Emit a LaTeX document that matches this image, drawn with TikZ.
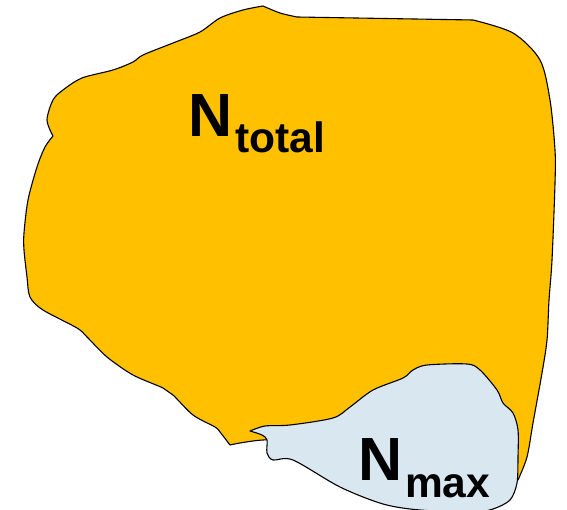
\documentclass[tikz,border=0pt]{standalone}
\usepackage{fontspec}
\setmainfont{Liberation Sans}
\definecolor{gold}{HTML}{FFC000}
\definecolor{paleblue}{HTML}{D9E7F0}
\tikzset{
  blob/.style={draw=black, line width=1.1pt, line join=round},
  bigN/.style={anchor=base west, inner sep=0pt, font=\fontsize{61}{61}\selectfont\bfseries},
  subtxt/.style={anchor=base west, inner sep=0pt, font=\fontsize{42.5}{42.5}\selectfont\bfseries}
}
\begin{document}
\begin{tikzpicture}[x=1pt,y=-1pt]
\useasboundingbox (0,0) rectangle (567,510);
% total region
\path[blob, fill=gold]
  plot[smooth, tension=0.5] coordinates {(263,6) (280,13) (297,17)}
  -- (473,20)
  -- plot[smooth, tension=0.5] coordinates {(473,20) (513,33) (540,60) (550,100) (555,150) (555,183) (552,260) (549,300) (547,340) (542,373) (533,423) (527,457) (518,480)}
  -- plot[smooth, tension=0.5] coordinates {(518,480) (480,470) (400,450) (300,440) (263,440) (240,443) (230,445)}
  -- plot[smooth, tension=0.5] coordinates {(230,445) (220,432) (215,427) (193,415) (173,395) (163,388) (133,375) (107,357) (87,337) (77,328) (43,310) (30,297) (27,277) (24,250) (24,233) (28,200) (37,167) (45,147) (53,136)}
  -- plot[smooth, tension=0.5] coordinates {(53,136) (47,120) (53,100) (63,90) (82,78) (113,70) (133,62) (143,55) (173,43) (200,32) (220,18) (243,10) (263,6)}
  -- cycle;
% max region
\path[blob, fill=paleblue]
  plot[smooth, tension=0.5] coordinates {(250,431) (265,426) (290,425) (333,418) (350,407) (373,390) (403,378) (413,370) (427,365) (467,364) (480,370) (497,390) (503,403) (513,413) (518,430) (518,457) (517,483) (510,500) (493,509) (473,512) (420,510) (383,504) (340,487) (293,460) (273,460) (267,453) (267,440) (262,435) (250,431)}
  -- cycle;
% labels
\node[bigN] (nt) at (188,137) {N};
\node[subtxt] (ntsub) at (235,153) {total};
\node[bigN] (nm) at (358,480) {N};
\node[subtxt] (nmsub) at (405,497) {max};
\end{tikzpicture}
\end{document}
